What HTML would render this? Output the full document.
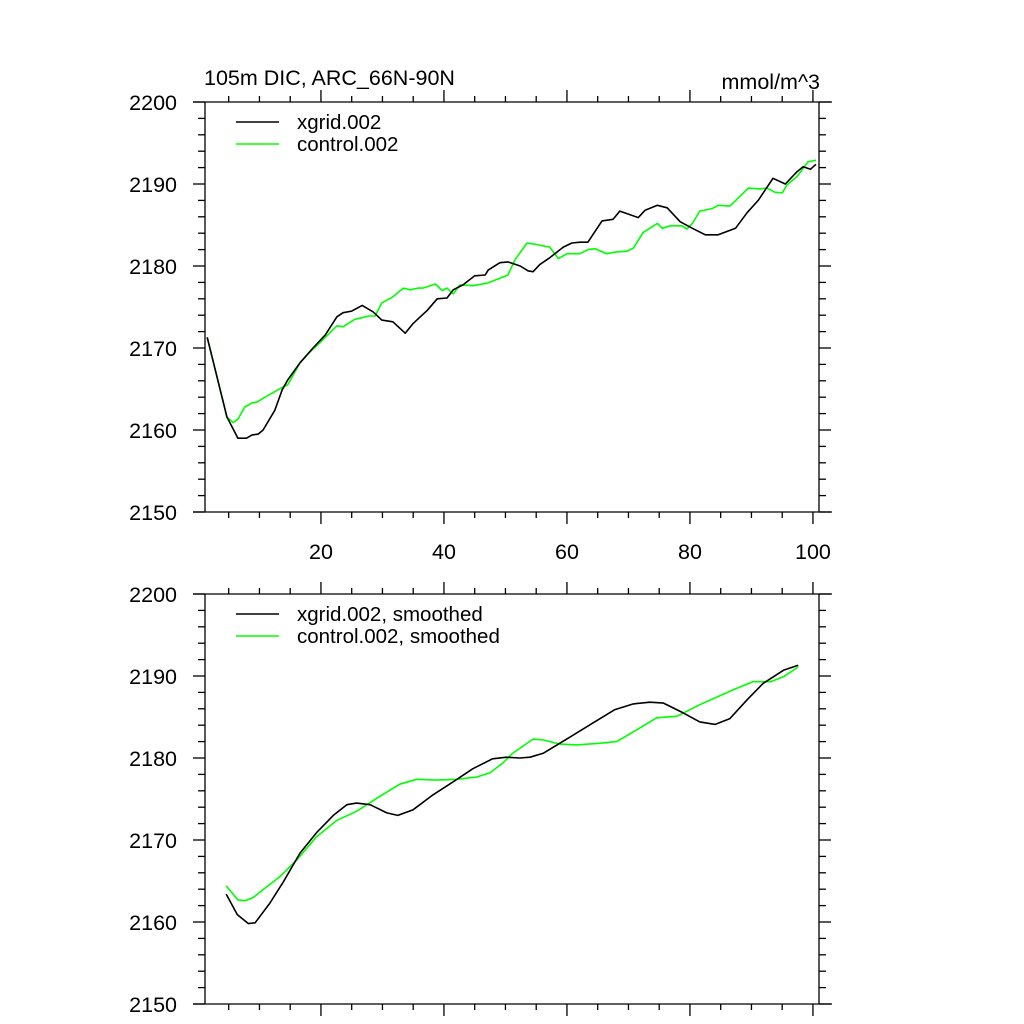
<!DOCTYPE html>
<html><head><meta charset="utf-8"><style>
html,body{margin:0;padding:0;background:#fff;}
svg{display:block;font-family:"Liberation Sans",sans-serif;}
</style></head><body>
<svg id="chart" width="1024" height="1024" viewBox="0 0 1024 1024" xmlns="http://www.w3.org/2000/svg">
<text x="204" y="85" font-size="21.5">105m DIC, ARC_66N-90N</text>
<text x="820" y="89" font-size="21.5" text-anchor="end">mmol/m^3</text>
<g id="p1"></g>
<g id="p2"></g>
</svg>
<script>
const xgridYears=[1.5,4.7,6.5,7.9,8.8,9.8,10.6,12.5,13.7,14.6,16.6,18.7,20.7,22.6,23.6,25.0,26.7,28.5,29.9,31.7,33.7,35.0,37.3,38.9,40.5,41.5,43.1,45.0,46.7,47.2,49.1,50.4,52.4,53.7,54.5,55.6,57.2,59.4,60.8,62.1,63.4,65.7,67.5,68.6,71.6,72.7,74.7,76.3,78.4,80.4,82.5,84.6,87.4,89.3,91.1,93.5,95.5,97.4,98.4,99.6,100.5];
const xgridVals=[2171.3,2161.6,2159.0,2159.0,2159.4,2159.5,2160.0,2162.4,2164.9,2166.1,2168.2,2170.0,2171.6,2173.8,2174.3,2174.5,2175.2,2174.4,2173.4,2173.2,2171.8,2173.0,2174.6,2176.0,2176.1,2177.1,2177.7,2178.8,2178.9,2179.5,2180.4,2180.5,2180.0,2179.4,2179.3,2180.2,2181.0,2182.3,2182.8,2182.9,2182.9,2185.5,2185.7,2186.7,2185.9,2186.8,2187.4,2187.1,2185.4,2184.6,2183.8,2183.8,2184.6,2186.5,2188.0,2190.7,2190.0,2191.5,2192.1,2191.8,2192.4];
const controlYears=[1.5,4.7,5.7,6.5,7.6,8.8,9.6,10.9,13.7,14.6,16.6,18.2,19.9,21.5,22.6,23.6,25.5,26.7,27.7,28.8,29.9,31.6,33.4,34.5,35.8,36.6,38.6,39.7,40.5,41.5,42.6,44.7,47.0,49.1,50.4,51.5,53.5,54.5,57.2,58.6,60.0,62.1,63.4,64.6,66.5,67.8,69.8,70.8,72.4,74.7,75.5,76.8,78.7,79.5,80.4,81.6,83.6,84.6,86.5,89.5,91.4,92.5,93.8,95.0,95.8,97.4,99.2,100.5];
const controlVals=[2171.3,2161.6,2160.9,2161.3,2162.8,2163.3,2163.4,2164.0,2165.2,2165.5,2168.2,2169.5,2170.7,2171.9,2172.7,2172.6,2173.5,2173.7,2173.9,2173.9,2175.5,2176.2,2177.3,2177.1,2177.3,2177.3,2177.8,2177.0,2177.3,2176.6,2177.7,2177.6,2177.9,2178.5,2178.9,2180.7,2182.8,2182.7,2182.3,2180.9,2181.5,2181.5,2182.0,2182.1,2181.5,2181.7,2181.8,2182.2,2184.1,2185.2,2184.6,2184.9,2184.9,2184.5,2185.2,2186.7,2187.0,2187.4,2187.3,2189.5,2189.4,2189.5,2189.0,2188.9,2189.9,2190.9,2192.7,2192.9];
const xgridSmYears=[4.6,6.4,8.2,9.3,11.7,13.9,16.6,19.3,22.0,24.2,25.8,28.0,30.7,32.5,35.0,38.2,41.5,44.7,47.9,50.2,52.3,54.0,56.2,60.6,64.3,67.8,70.8,73.5,75.7,78.9,81.6,84.1,86.5,89.3,91.9,95.2,97.6];
const xgridSmVals=[2163.4,2160.9,2159.8,2159.9,2162.3,2164.9,2168.4,2170.9,2173.0,2174.3,2174.5,2174.3,2173.3,2173.0,2173.7,2175.5,2177.1,2178.7,2179.9,2180.1,2180.0,2180.1,2180.6,2182.6,2184.3,2185.9,2186.6,2186.8,2186.7,2185.5,2184.4,2184.1,2184.8,2187.1,2189.1,2190.7,2191.3];
const controlSmYears=[4.6,6.5,7.7,9.0,11.2,13.3,16.1,19.3,22.6,25.8,29.1,32.8,35.6,38.8,42.1,45.4,47.5,49.6,51.2,54.5,56.2,58.9,61.6,65.4,68.1,70.8,74.6,77.9,81.6,87.0,90.2,93.1,95.2,97.6];
const controlSmVals=[2164.4,2162.7,2162.6,2163.0,2164.3,2165.5,2167.6,2170.4,2172.4,2173.5,2175.1,2176.8,2177.4,2177.3,2177.4,2177.7,2178.2,2179.4,2180.6,2182.3,2182.2,2181.7,2181.6,2181.8,2182.0,2183.2,2184.9,2185.1,2186.5,2188.3,2189.3,2189.3,2189.9,2191.1];
const yTicks=[2150,2160,2170,2180,2190,2200];
const xTicks=[20,40,60,80,100];

const NS='http://www.w3.org/2000/svg';
function mk(parent,tag,attrs){const e=document.createElementNS(NS,tag);for(const k in attrs)e.setAttribute(k,attrs[k]);parent.appendChild(e);return e;}
const xs=y=>204.1+(y-1)*6.15;
function panel(g,top,showX,s1x,s1y,s2x,s2y,lab1,lab2){
  const bot=top+410;
  const ys=v=>top+(2200-v)*8.2;
  const ax={stroke:'#000','stroke-width':1.3,fill:'none'};
  let e;
  e=mk(g,'line',Object.assign({x1:193,x2:832,y1:top,y2:top},ax));
  
  
  e=mk(g,'line',Object.assign({x1:193,x2:832,y1:bot,y2:bot},ax));
  
  
  e=mk(g,'line',Object.assign({x1:205,x2:205,y1:top,y2:bot},ax));
  
  
  e=mk(g,'line',Object.assign({x1:819,x2:819,y1:top,y2:bot},ax));
  
  
  for(let yr=5;yr<=100;yr+=5){
    const maj=yr%20===0, L=maj?12:6, x=xs(yr);
    mk(g,'line',Object.assign({x1:x,x2:x,y1:top,y2:top-L},ax));
    mk(g,'line',Object.assign({x1:x,x2:x,y1:bot,y2:bot+L},ax));
  }
  if(showX){for(const t of xTicks){
    e=mk(g,'text',{x:xs(t),y:bot+47,'font-size':21.5,'text-anchor':'middle'});e.textContent=t;
    
    
  }}
  for(let v=2150;v<=2200;v+=2){
    const maj=v%10===0,L=maj?12:7,y=ys(v);
    mk(g,'line',Object.assign({x1:205,x2:205-L,y1:y,y2:y},ax));
    mk(g,'line',Object.assign({x1:819,x2:819+L,y1:y,y2:y},ax));
  }
  for(const t of yTicks){
    e=mk(g,'text',{x:177,y:ys(t)+8,'font-size':21.5,'text-anchor':'end'});e.textContent=t;
    
    
  }
  const line=(X,Y,c,n)=>{const p=mk(g,'polyline',{points:X.map((x,i)=>xs(x).toFixed(1)+','+ys(Y[i]).toFixed(1)).join(' '),fill:'none',stroke:c,'stroke-width':1.6,'stroke-linejoin':'round'});
    
    };
  line(s2x,s2y,'#00ff00','control-line');
  line(s1x,s1y,'#000','xgrid-line');
  const lg=[[lab1,'#000',top+20],[lab2,'#00ff00',top+42]];
  for(const [t,c,y] of lg){
    mk(g,'line',{x1:236,x2:279,y1:y,y2:y,stroke:c,'stroke-width':1.5});
    e=mk(g,'text',{x:297,y:y+7,'font-size':20.5});e.textContent=t;
    
    
  }
}
panel(document.getElementById('p1'),102,true,xgridYears,xgridVals,controlYears,controlVals,'xgrid.002','control.002');
panel(document.getElementById('p2'),594,false,xgridSmYears,xgridSmVals,controlSmYears,controlSmVals,'xgrid.002, smoothed','control.002, smoothed');
</script>
</body></html>
